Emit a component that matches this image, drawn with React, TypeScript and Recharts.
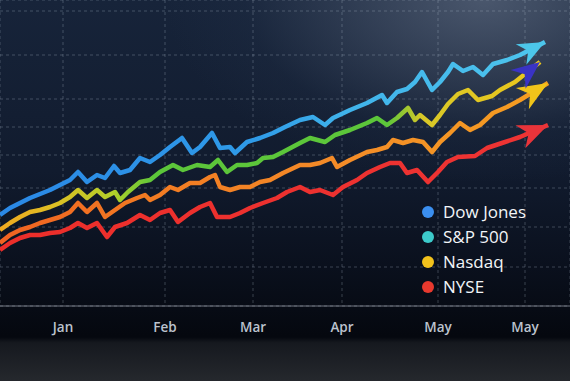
import { CartesianGrid, Line, LineChart, XAxis, YAxis } from "recharts";

// index level read off the picture, sampled along the trading days
const dowJones: [number, number][] = [
  [0, 91], [10, 98], [20, 103], [30, 108], [40, 112], [50, 116], [60, 121], [70, 126],
  [78, 134], [87, 124], [97, 131], [105, 128], [114, 140], [120, 133], [130, 136], [140, 148],
  [150, 144], [160, 151], [170, 159], [182, 168], [192, 153], [200, 159], [212, 173], [220, 158],
  [230, 159], [235, 153], [247, 164], [260, 168], [273, 173], [285, 179], [300, 186], [313, 189],
  [325, 181], [333, 188], [350, 196], [367, 203], [382, 211], [387, 203], [397, 214], [407, 217],
  [415, 224], [422, 234], [432, 216], [440, 224], [448, 234], [453, 242], [463, 235], [473, 239],
  [483, 231], [493, 242], [507, 246], [520, 251], [545, 264],
];

const sp500: [number, number][] = [
  [0, 76], [10, 83], [20, 89], [30, 94], [40, 96], [50, 99], [60, 103], [70, 109],
  [78, 116], [87, 108], [97, 116], [105, 109], [115, 114], [120, 106], [128, 114], [140, 124],
  [150, 126], [160, 134], [173, 141], [183, 136], [197, 141], [210, 139], [218, 146], [227, 134],
  [237, 141], [247, 141], [257, 143], [263, 148], [273, 149], [283, 154], [300, 163], [310, 168],
  [325, 164], [335, 171], [350, 176], [367, 183], [377, 188], [387, 181], [397, 188], [408, 198],
  [415, 186], [420, 191], [432, 181], [440, 191], [448, 202], [458, 212], [468, 216], [478, 206],
  [492, 210], [500, 216], [515, 224], [540, 244],
];

const nasdaq: [number, number][] = [
  [0, 63], [10, 71], [20, 76], [30, 79], [40, 83], [50, 86], [60, 89], [70, 94],
  [78, 103], [87, 94], [97, 103], [105, 89], [115, 96], [125, 103], [137, 108], [145, 111],
  [150, 106], [160, 111], [170, 119], [178, 116], [190, 123], [200, 123], [210, 129], [215, 131],
  [220, 119], [230, 116], [240, 119], [250, 119], [260, 124], [270, 126], [283, 133], [300, 141],
  [310, 141], [320, 143], [332, 148], [337, 139], [350, 146], [367, 154], [377, 156], [387, 159],
  [393, 166], [403, 163], [413, 166], [423, 164], [432, 154], [440, 164], [450, 173], [460, 183],
  [470, 176], [480, 181], [493, 193], [507, 199], [520, 206], [548, 223],
];

const nyse: [number, number][] = [
  [0, 56], [10, 63], [20, 68], [30, 71], [40, 71], [50, 73], [60, 74], [70, 78],
  [78, 83], [87, 78], [97, 83], [107, 69], [115, 79], [127, 83], [140, 91], [150, 86],
  [160, 93], [170, 96], [178, 84], [190, 93], [200, 99], [210, 103], [217, 89], [230, 89],
  [240, 93], [250, 98], [263, 103], [277, 108], [287, 114], [300, 119], [310, 114], [320, 116],
  [333, 111], [343, 119], [357, 126], [367, 133], [380, 139], [390, 143], [400, 143], [407, 133],
  [417, 136], [428, 124], [438, 134], [447, 144], [458, 149], [475, 150], [487, 158], [502, 163],
  [520, 169], [548, 181],
];

const monthTicks = [63, 165, 253, 342, 438, 525];
const monthLabels = ["Jan", "Feb", "Mar", "Apr", "May", "May"];
const levelTicks = [39, 79, 118, 151, 179, 207, 251, 295];

const legendNames = ["Dow Jones", "S&P 500", "Nasdaq", "NYSE"];
const legendColors = ["#3b8ff0", "#3ccbcb", "#f2c21c", "#e8392e"];

const toRows = (pts: [number, number][]) => pts.map(([x, v]) => ({ x, v }));

const W = 570;
const H = 340;
const PLOT_H = 306;

// arrow head on the last point, pointing along the last segment
const arrowDot = (pts: [number, number][], color: string, len: number, wid: number) =>
  (props: any) => {
    const { cx, cy, index } = props;
    if (index !== pts.length - 1 || cx == null) return <g key={`d-${index}`} />;
    const [x1, v1] = pts[pts.length - 2];
    const [x2, v2] = pts[pts.length - 1];
    const ang = Math.atan2(-(v2 - v1) * (PLOT_H / 306), (x2 - x1) * (W / 570));
    const ux = Math.cos(ang);
    const uy = Math.sin(ang);
    const bx = cx - ux * len;
    const by = cy - uy * len;
    const px = -uy * (wid / 2);
    const py = ux * (wid / 2);
    return (
      <polygon
        key={`d-${index}`}
        points={`${cx},${cy} ${bx + px},${by + py} ${bx + ux * len * 0.3},${by + uy * len * 0.3} ${bx - px},${by - py}`}
        fill={color}
        strokeLinejoin="round"
      />
    );
  };

export default function App() {
  return (
    <div
      style={{
        width: W,
        height: 381,
        position: "relative",
        overflow: "hidden",
        background:
          "linear-gradient(to bottom, rgba(0,0,0,0) 0%, rgba(0,0,0,0) 88.5%, #16191f 90%, #25282d 100%)," +
          "radial-gradient(ellipse 70% 60% at 85% 0%, rgba(95,108,130,0.7), rgba(40,55,80,0.2) 60%, rgba(0,0,0,0) 80%)," +
          "linear-gradient(to bottom, #17243a 0%, #111b2e 45%, #0a101d 70%, #05080f 88%)",
      }}
    >
      <style>{"body{margin:0}"}</style>
      <LineChart width={W} height={H} margin={{ top: 0, right: 0, bottom: 0, left: 0 }}>
        <defs>
          <linearGradient id="gDow" gradientUnits="userSpaceOnUse" x1="0" y1="0" x2="570" y2="0">
            <stop offset="0" stopColor="#2a88e6" />
            <stop offset="0.45" stopColor="#2f9be8" />
            <stop offset="0.6" stopColor="#3fb2ea" />
            <stop offset="1" stopColor="#50c8ee" />
          </linearGradient>
          <linearGradient id="gSp" gradientUnits="userSpaceOnUse" x1="0" y1="0" x2="570" y2="0">
            <stop offset="0" stopColor="#f0a820" />
            <stop offset="0.1" stopColor="#dcc024" />
            <stop offset="0.2" stopColor="#b0d02a" />
            <stop offset="0.27" stopColor="#5cc63a" />
            <stop offset="0.68" stopColor="#5cc63a" />
            <stop offset="0.74" stopColor="#d8c828" />
            <stop offset="1" stopColor="#f2c618" />
          </linearGradient>
          <linearGradient id="gNas" gradientUnits="userSpaceOnUse" x1="0" y1="0" x2="570" y2="0">
            <stop offset="0" stopColor="#f06222" />
            <stop offset="0.25" stopColor="#f27a22" />
            <stop offset="0.6" stopColor="#f48c28" />
            <stop offset="1" stopColor="#f5a020" />
          </linearGradient>
          <linearGradient id="gNyse" gradientUnits="userSpaceOnUse" x1="0" y1="0" x2="570" y2="0">
            <stop offset="0" stopColor="#ec2e2a" />
            <stop offset="1" stopColor="#ee3434" />
          </linearGradient>
        </defs>
        <CartesianGrid stroke="rgba(190,200,215,0.28)" strokeDasharray="3 3" />
        <XAxis
          dataKey="x"
          type="number"
          domain={[0, 570]}
          ticks={monthTicks}
          tickFormatter={(v: number) => monthLabels[monthTicks.indexOf(v)] ?? ""}
          axisLine={{ stroke: "rgba(200,208,220,0.55)" }}
          tickLine={false}
          tickSize={0}
          tickMargin={16}
          height={H - PLOT_H}
          tick={{ fill: "#bcc3ce", fontSize: 13.5, fontWeight: 600, fontFamily: "'Open Sans', sans-serif" }}
          allowDataOverflow
        />
        <YAxis hide type="number" domain={[0, 306]} ticks={levelTicks} />
        <Line data={toRows(nyse)} dataKey="v" name="NYSE" stroke="url(#gNyse)" strokeWidth={4.5}
          strokeLinejoin="round" isAnimationActive={false} dot={arrowDot(nyse, "#e8343a", 30, 25)} activeDot={false} />
        <Line data={toRows(nasdaq)} dataKey="v" name="Nasdaq" stroke="url(#gNas)" strokeWidth={4.5}
          strokeLinejoin="round" isAnimationActive={false} dot={arrowDot(nasdaq, "#f0c41a", 30, 25)} activeDot={false} />
        <Line data={toRows(sp500)} dataKey="v" name="S&P 500" stroke="url(#gSp)" strokeWidth={4.5}
          strokeLinejoin="round" isAnimationActive={false} dot={arrowDot(sp500, "#3a33c4", 28, 24)} activeDot={false} />
        <Line data={toRows(dowJones)} dataKey="v" name="Dow Jones" stroke="url(#gDow)" strokeWidth={4.5}
          strokeLinejoin="round" isAnimationActive={false} dot={arrowDot(dowJones, "#4cc6ea", 27, 23)} activeDot={false} />
      </LineChart>
      <div style={{ position: "absolute", left: 422, top: 199, fontFamily: "'Open Sans', sans-serif" }}>
        {legendNames.map((n, i) => (
          <div key={n} style={{ display: "flex", alignItems: "center", height: 25 }}>
            <span
              style={{ width: 12, height: 12, borderRadius: 6, background: legendColors[i], marginRight: 9 }}
            />
            <span style={{ color: "#f2f5f8", fontSize: 17, fontWeight: 500 }}>{n}</span>
          </div>
        ))}
      </div>
    </div>
  );
}
